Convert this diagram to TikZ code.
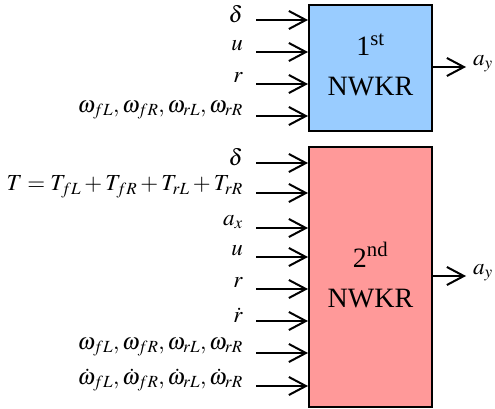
\documentclass[tikz,border=0pt]{standalone}
\usepackage{mathptmx}
\usepackage[no-math]{fontspec}
\setmainfont{Liberation Serif}
\usetikzlibrary{arrows.meta}
\definecolor{boxblue}{RGB}{153,204,255}
\definecolor{boxred}{RGB}{255,153,153}
\tikzset{
  blk/.style={draw=black, line width=2pt, inner sep=0pt},
  inarr/.style={line width=2pt, -{Straight Barb[length=17pt,width=18pt,line width=2pt]}},
  lbl/.style={anchor=east, inner sep=0pt, font=\fontsize{23}{26}\selectfont},
  olbl/.style={anchor=west, inner sep=0pt, font=\fontsize{23}{26}\selectfont},
  ttl/.style={align=center, font=\fontsize{28}{40}\selectfont},
}
\begin{document}
\begin{tikzpicture}[x=1pt,y=-1pt]
\useasboundingbox (0,0) rectangle (495,409);
% boxes
\node[blk, fill=boxblue, minimum width=123pt, minimum height=126pt, anchor=north west] (b1) at (308,4) {};
\node[ttl] (t1) at ([yshift=3pt]b1.center) {1\textsuperscript{st}\\NWKR};
\node[blk, fill=boxred, minimum width=123pt, minimum height=260pt, anchor=north west] (b2) at (308,146) {};
\node[ttl] (t2) at ([yshift=2pt]b2.center) {2\textsuperscript{nd}\\NWKR};
% first block inputs
\foreach \yy/\name/\txt in {20/a1/{$\delta$}, 52/a2/{$u$}, 84/a3/{$r$}, 116/a4/{$\omega_{fL},\omega_{fR},\omega_{rL},\omega_{rR}$}}{
  \coordinate (\name s) at (256,\yy);
  \coordinate (\name e) at (308,\yy);
  \draw[inarr] (\name s) -- (\name e);
  \node[lbl] (\name l) at (243,\yy-6) {\txt};
}
% second block inputs
\foreach \yy/\name/\txt in {163/c1/{$\delta$}, 193/c2/{$T=T_{fL}+T_{fR}+T_{rL}+T_{rR}$}, 228/c3/{$a_x$}, 257/c4/{$u$}, 289/c5/{$r$}, 321/c6/{$\dot r$}, 353/c7/{$\omega_{fL},\omega_{fR},\omega_{rL},\omega_{rR}$}, 386/c8/{$\dot\omega_{fL},\dot\omega_{fR},\dot\omega_{rL},\dot\omega_{rR}$}}{
  \coordinate (\name s) at (256,\yy);
  \coordinate (\name e) at (308,\yy);
  \draw[inarr] (\name s) -- (\name e);
  \node[lbl] (\name l) at (243,\yy-6) {\txt};
}
% outputs
\coordinate (o1s) at (432,67);
\coordinate (o1) at (466,67);
\draw[inarr] (o1s) -- (o1);
\node[olbl] (y1) at (473,64) {$a_y$};
\coordinate (o2s) at (432,276);
\coordinate (o2) at (466,276);
\draw[inarr] (o2s) -- (o2);
\node[olbl] (y2) at (473,273) {$a_y$};
\end{tikzpicture}
\end{document}
